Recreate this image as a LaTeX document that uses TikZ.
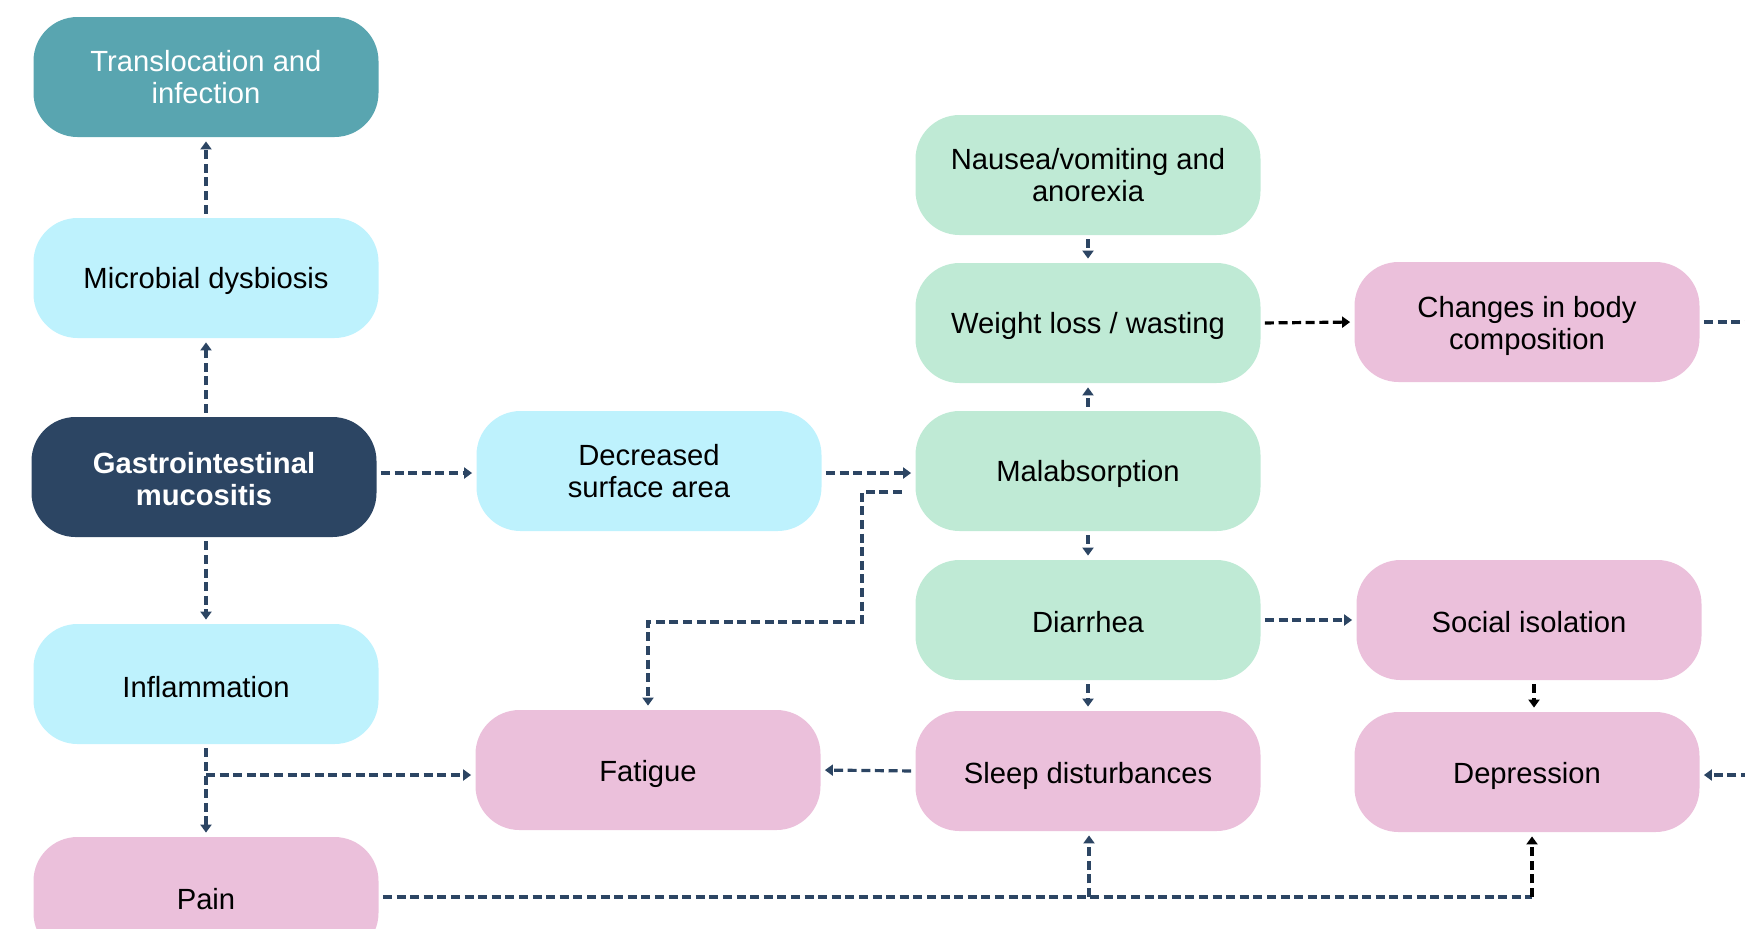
\documentclass[tikz,border=0pt]{standalone}
\usepackage{fontspec}
\setmainfont{Liberation Sans}
\usetikzlibrary{arrows.meta,calc}
\definecolor{tealbox}{HTML}{59A5B0}
\definecolor{cyanbox}{HTML}{BEF2FD}
\definecolor{navybox}{HTML}{2C4563}
\definecolor{mintbox}{HTML}{BFEAD5}
\definecolor{pinkbox}{HTML}{EBC0DB}
\definecolor{linecol}{HTML}{2C4563}
\begin{document}
\begin{tikzpicture}[x=0.5pt,y=-0.5pt,
  box/.style={rounded corners=22pt, minimum width=172.5pt, minimum height=60pt, inner sep=0pt, align=center, font=\fontsize{14.6}{16}\selectfont, text=black},
  tealstyle/.style={box, fill=tealbox, text=white},
  cyanstyle/.style={box, fill=cyanbox},
  navystyle/.style={box, fill=navybox, text=white, font=\fontsize{14.6}{16}\selectfont\bfseries},
  mintstyle/.style={box, fill=mintbox},
  pinkstyle/.style={box, fill=pinkbox},
  lower/.style={execute at begin node={\rule{0pt}{#1}}},
  conn/.style={draw=linecol, line width=1.6pt, dash pattern=on 4.5pt off 2.3pt, -{Triangle[length=4pt,width=5.5pt]}, shorten >=2pt, shorten <=2pt},
  plain/.style={draw=linecol, line width=1.6pt, dash pattern=on 4.5pt off 2.3pt},
  blackconn/.style={conn, draw=black},
]
\path[use as bounding box] (0,0) rectangle (1745,928);
\clip (0,0) rectangle (1745,928);

% nodes
\node[tealstyle] (trans) at (206,77) {Translocation and\\infection};
\node[cyanstyle, lower=14pt] (micro) at (206,278) {Microbial dysbiosis};
\node[navystyle] (gi) at (204,477) {\rule{0pt}{13pt}Gastrointestinal\\mucositis};
\node[cyanstyle, lower=13.5pt] (infl) at (206,684) {Inflammation};
\node[pinkstyle, lower=12.5pt] (pain) at (206,897) {Pain};
\node[cyanstyle] (dec) at (649,471) {Decreased\\surface area};
\node[pinkstyle, lower=15pt] (fat) at (648,770) {Fatigue};
\node[mintstyle] (nau) at (1088,175) {Nausea/vomiting and\\anorexia};
\node[mintstyle, lower=14pt] (wt) at (1088,323) {Weight loss / wasting};
\node[mintstyle, lower=14pt] (mal) at (1088,471) {Malabsorption};
\node[mintstyle, lower=12.5pt] (dia) at (1088,620) {Diarrhea};
\node[pinkstyle, lower=15.5pt] (sleep) at (1088,771) {Sleep disturbances};
\node[pinkstyle] (chg) at (1527,322) {\rule{0pt}{15pt}Changes in body\\composition};
\node[pinkstyle, lower=12.5pt] (soc) at (1529,620) {Social isolation};
\node[pinkstyle, lower=15pt] (dep) at (1527,772) {Depression};

% helper coordinates
\coordinate (malout) at (902,492);
\coordinate (jA) at (862,622);
\coordinate (jB) at (206,775);
\coordinate (chgoff) at (1750,322);
\coordinate (depin) at (1750,775);
\coordinate (pjoin) at (1532,897);
\coordinate (pbranch) at (1089,897);

% connectors
\draw[conn] (micro.north) -- (trans.south);
\draw[conn] (gi.north -| micro.north) -- (micro.south);
\draw[conn] (gi.south -| infl.north) -- (infl.north);
\draw[conn] (gi.east |- 0,473) -- (dec.west |- 0,473);
\draw[conn] (dec.east |- 0,473) -- (mal.west |- 0,473);
\draw[conn, shorten <=0pt] (malout) -| (jA) -| (fat.north);
\draw[conn] (mal.north) -- (wt.south);
\draw[conn] (nau.south) -- (wt.north);
\draw[blackconn] (wt.east) -- (chg.west);
\draw[plain, shorten <=2pt] (chg.east) -- (chgoff);
\draw[conn] (mal.south) -- (dia.north);
\draw[conn] (dia.east) -- (soc.west);
\draw[conn] (dia.south) -- (sleep.north);
\draw[blackconn] (soc.south -| 1534,0) -- (dep.north -| 1534,0);
\draw[conn, shorten <=0pt] (depin) -- (dep.east |- depin);
\draw[conn] (sleep.west) -- (fat.east);
\draw[conn] (infl.south) -- (pain.north);
\draw[conn, shorten <=0pt] (jB) -- (fat.west |- jB);
\draw[plain, shorten <=2pt] (pain.east) -- (pjoin);
\draw[blackconn, shorten <=0pt] (pjoin) -- (pjoin |- dep.south);
\draw[conn, shorten <=0pt] (pbranch) -- (pbranch |- sleep.south);
\end{tikzpicture}
\end{document}
